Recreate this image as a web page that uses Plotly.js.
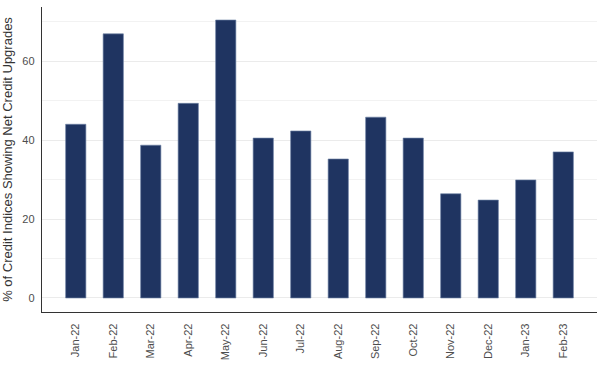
<!DOCTYPE html>
<html>
<head>
<meta charset="utf-8">
<script src="https://cdn.plot.ly/plotly-3.0.1.min.js"></script>
<style>html,body{margin:0;padding:0;background:#fff;}#chart{width:605px;height:378px;}</style>
</head>
<body>
<div id="chart"></div>
<script>
var months = ["Jan-22","Feb-22","Mar-22","Apr-22","May-22","Jun-22","Jul-22","Aug-22","Sep-22","Oct-22","Nov-22","Dec-22","Jan-23","Feb-23"];
var pctUpgrades = [44.0, 66.9, 38.7, 49.3, 70.4, 40.5, 42.3, 35.2, 45.8, 40.5, 26.4, 24.8, 29.9, 37.0];
var yTickVals = [0, 20, 40, 60];
var yTitle = "% of Credit Indices Showing Net Credit Upgrades";

var trace = {
  type: "bar",
  x: months,
  y: pctUpgrades,
  width: 0.54,
  marker: {color: "#1f3461", line: {color: "rgba(110,130,165,0.8)", width: 0.8}},
  hoverinfo: "x+y"
};

var layout = {
  width: 605, height: 378,
  margin: {l: 42, r: 8, t: 7, b: 66, pad: 0},
  paper_bgcolor: "#ffffff",
  plot_bgcolor: "#ffffff",
  showlegend: false,
  font: {family: "Liberation Sans, Arial, sans-serif", color: "#4d4d4d", size: 11},
  xaxis: {
    type: "category",
    range: [-0.9, 13.9],
    tickangle: -90,
    showgrid: false,
    showline: true, linecolor: "#333333", linewidth: 1.2,
    ticks: "outside", ticklen: 6, tickcolor: "rgba(0,0,0,0)",
    tickfont: {size: 11, color: "#4d4d4d"},
    zeroline: false, fixedrange: true
  },
  yaxis: {
    range: [-3.55, 73.7],
    tickvals: yTickVals,
    ticktext: yTickVals.map(String),
    showgrid: true, gridcolor: "#ebebeb", gridwidth: 1,
    minor: {tickvals: [10, 30, 50, 70], showgrid: true, gridcolor: "#f2f2f2", gridwidth: 1, ticks: ""},
    showline: true, linecolor: "#333333", linewidth: 1.2,
    ticks: "outside", ticklen: 4, tickcolor: "rgba(0,0,0,0)",
    tickfont: {size: 11, color: "#4d4d4d"},
    zeroline: false, fixedrange: true,
    title: {text: yTitle, font: {size: 13, color: "#333333"}, standoff: 6}
  }
};

Plotly.newPlot("chart", [trace], layout, {displayModeBar: false, staticPlot: true});
</script>
</body>
</html>
